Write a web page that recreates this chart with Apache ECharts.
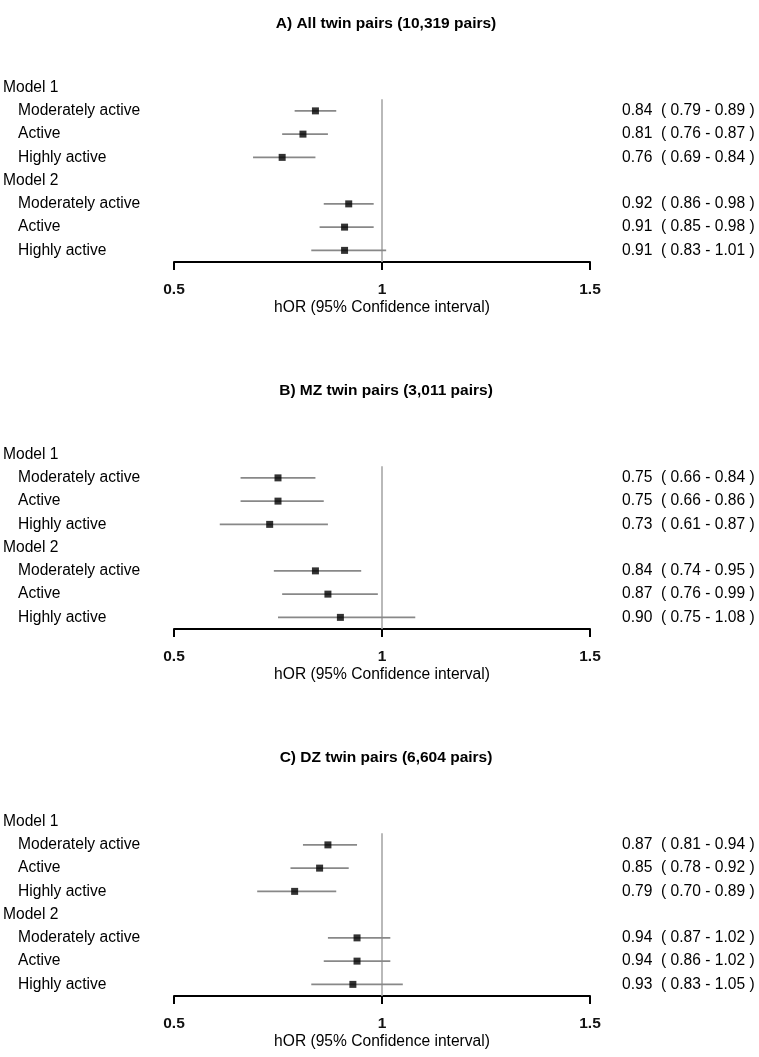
<!DOCTYPE html>
<html>
<head>
<meta charset="utf-8">
<script src="https://cdn.jsdelivr.net/npm/echarts@6/dist/echarts.min.js"></script>
<style>html,body{margin:0;padding:0;background:#fff}#c{width:759px;height:1057px}</style>
</head>
<body>
<div id="c"></div>
<script>
// ---- data ----
const panelTitles = ['A) All twin pairs (10,319 pairs)', 'B) MZ twin pairs (3,011 pairs)', 'C) DZ twin pairs (6,604 pairs)'];
const rowLabels = ['Model 1', 'Moderately active', 'Active', 'Highly active', 'Model 2', 'Moderately active', 'Active', 'Highly active'];
const isHeader = [true, false, false, false, true, false, false, false];
// per panel: estimate / lower / upper for rows (null for header rows)
const estA = [null, 0.84, 0.81, 0.76, null, 0.92, 0.91, 0.91];
const lowA = [null, 0.79, 0.76, 0.69, null, 0.86, 0.85, 0.83];
const upA  = [null, 0.89, 0.87, 0.84, null, 0.98, 0.98, 1.01];
const estB = [null, 0.75, 0.75, 0.73, null, 0.84, 0.87, 0.90];
const lowB = [null, 0.66, 0.66, 0.61, null, 0.74, 0.76, 0.75];
const upB  = [null, 0.84, 0.86, 0.87, null, 0.95, 0.99, 1.08];
const estC = [null, 0.87, 0.85, 0.79, null, 0.94, 0.94, 0.93];
const lowC = [null, 0.81, 0.78, 0.70, null, 0.87, 0.86, 0.83];
const upC  = [null, 0.94, 0.92, 0.89, null, 1.02, 1.02, 1.05];
const xMin = 0.5, xMax = 1.5, xInterval = 0.5;
const refValue = 1;
const axisTitle = 'hOR (95% Confidence interval)';

const panels = [[estA, lowA, upA], [estB, lowB, upB], [estC, lowC, upC]];

const FONT = '"Liberation Sans", Arial, sans-serif';
const FS = 15.6;
const gridTops = [76, 443, 810];
const gridH = 186;
const rowIds = rowLabels.map((_, i) => 'r' + i);

const option = { animation: false, title: [], grid: [], xAxis: [], yAxis: [], series: [] };

panels.forEach((p, k) => {
  const [est, low, up] = p;
  option.title.push({
    text: panelTitles[k], left: 381, top: gridTops[k] - 65, textAlign: 'center',
    textStyle: { fontFamily: FONT, fontSize: 15.5, fontWeight: 'bold', color: '#000' }
  });
  option.grid.push({ left: 172, width: 418, top: gridTops[k], height: gridH });
  option.xAxis.push({
    gridIndex: k, type: 'value', min: xMin, max: xMax, interval: xInterval,
    axisLine: { show: true, lineStyle: { color: '#000', width: 2 } },
    axisTick: { show: true, inside: false, length: 8, lineStyle: { color: '#000', width: 2 } },
    axisLabel: { fontFamily: FONT, fontSize: 15.5, fontWeight: 'bold', color: '#111', margin: 20,
      formatter: v => String(+v.toFixed(2)) },
    splitLine: { show: false },
    name: axisTitle, nameLocation: 'middle', nameGap: 38,
    nameTextStyle: { fontFamily: FONT, fontSize: FS, color: '#000' }
  });
  // left labels
  option.yAxis.push({
    gridIndex: k, type: 'category', data: rowIds, inverse: true, position: 'left',
    axisLine: { show: false }, axisTick: { show: false }, splitLine: { show: false },
    axisLabel: {
      align: 'left', margin: 171, fontFamily: FONT, fontSize: FS, color: '#000',
      formatter: (v, i) => isHeader[i] ? '{h|' + rowLabels[i] + '}' : '{i|' + rowLabels[i] + '}',
      rich: {
        h: { fontFamily: FONT, fontSize: FS, color: '#000' },
        i: { fontFamily: FONT, fontSize: FS, color: '#000', padding: [0, 0, 0, 15] }
      }
    }
  });
  // right labels
  option.yAxis.push({
    gridIndex: k, type: 'category', data: rowIds, inverse: true, position: 'right',
    axisLine: { show: false }, axisTick: { show: false }, splitLine: { show: false },
    axisLabel: {
      align: 'left', margin: 32, fontFamily: FONT, fontSize: FS, color: '#000',
      formatter: (v, i) => est[i] == null ? '' :
        est[i].toFixed(2) + '  ( ' + low[i].toFixed(2) + ' - ' + up[i].toFixed(2) + ' )'
    }
  });
  const yIdx = 2 * k;
  // reference line
  option.series.push({
    type: 'custom', xAxisIndex: k, yAxisIndex: yIdx, silent: true, z: 1,
    data: [[refValue, 1, rowIds.length - 1]],
    renderItem: (params, api) => {
      const a = api.coord([api.value(0), api.value(1)]);
      const b = api.coord([api.value(0), api.value(2)]);
      const band = api.size([0, 1])[1];
      return { type: 'line', shape: { x1: a[0], y1: a[1] - band / 2, x2: b[0], y2: b[1] + band / 2 },
        style: { stroke: '#a8a8a8', lineWidth: 1.6 } };
    }
  });
  // error bars
  const ci = [];
  est.forEach((e, i) => { if (e != null) ci.push([low[i], up[i], i]); });
  option.series.push({
    type: 'custom', xAxisIndex: k, yAxisIndex: yIdx, silent: true, z: 2,
    data: ci,
    renderItem: (params, api) => {
      const a = api.coord([api.value(0), api.value(2)]);
      const b = api.coord([api.value(1), api.value(2)]);
      return { type: 'line', shape: { x1: a[0], y1: a[1], x2: b[0], y2: b[1] },
        style: { stroke: '#888', lineWidth: 1.6 } };
    }
  });
  // point estimates
  const pts = [];
  est.forEach((e, i) => { if (e != null) pts.push([e, i]); });
  option.series.push({
    type: 'scatter', xAxisIndex: k, yAxisIndex: yIdx, silent: true, z: 3,
    symbol: 'rect', symbolSize: 7, itemStyle: { color: '#000' }, data: pts
  });
});

const chart = echarts.init(document.getElementById('c'), null, { renderer: 'canvas' });
chart.setOption(option);
</script>
</body>
</html>
